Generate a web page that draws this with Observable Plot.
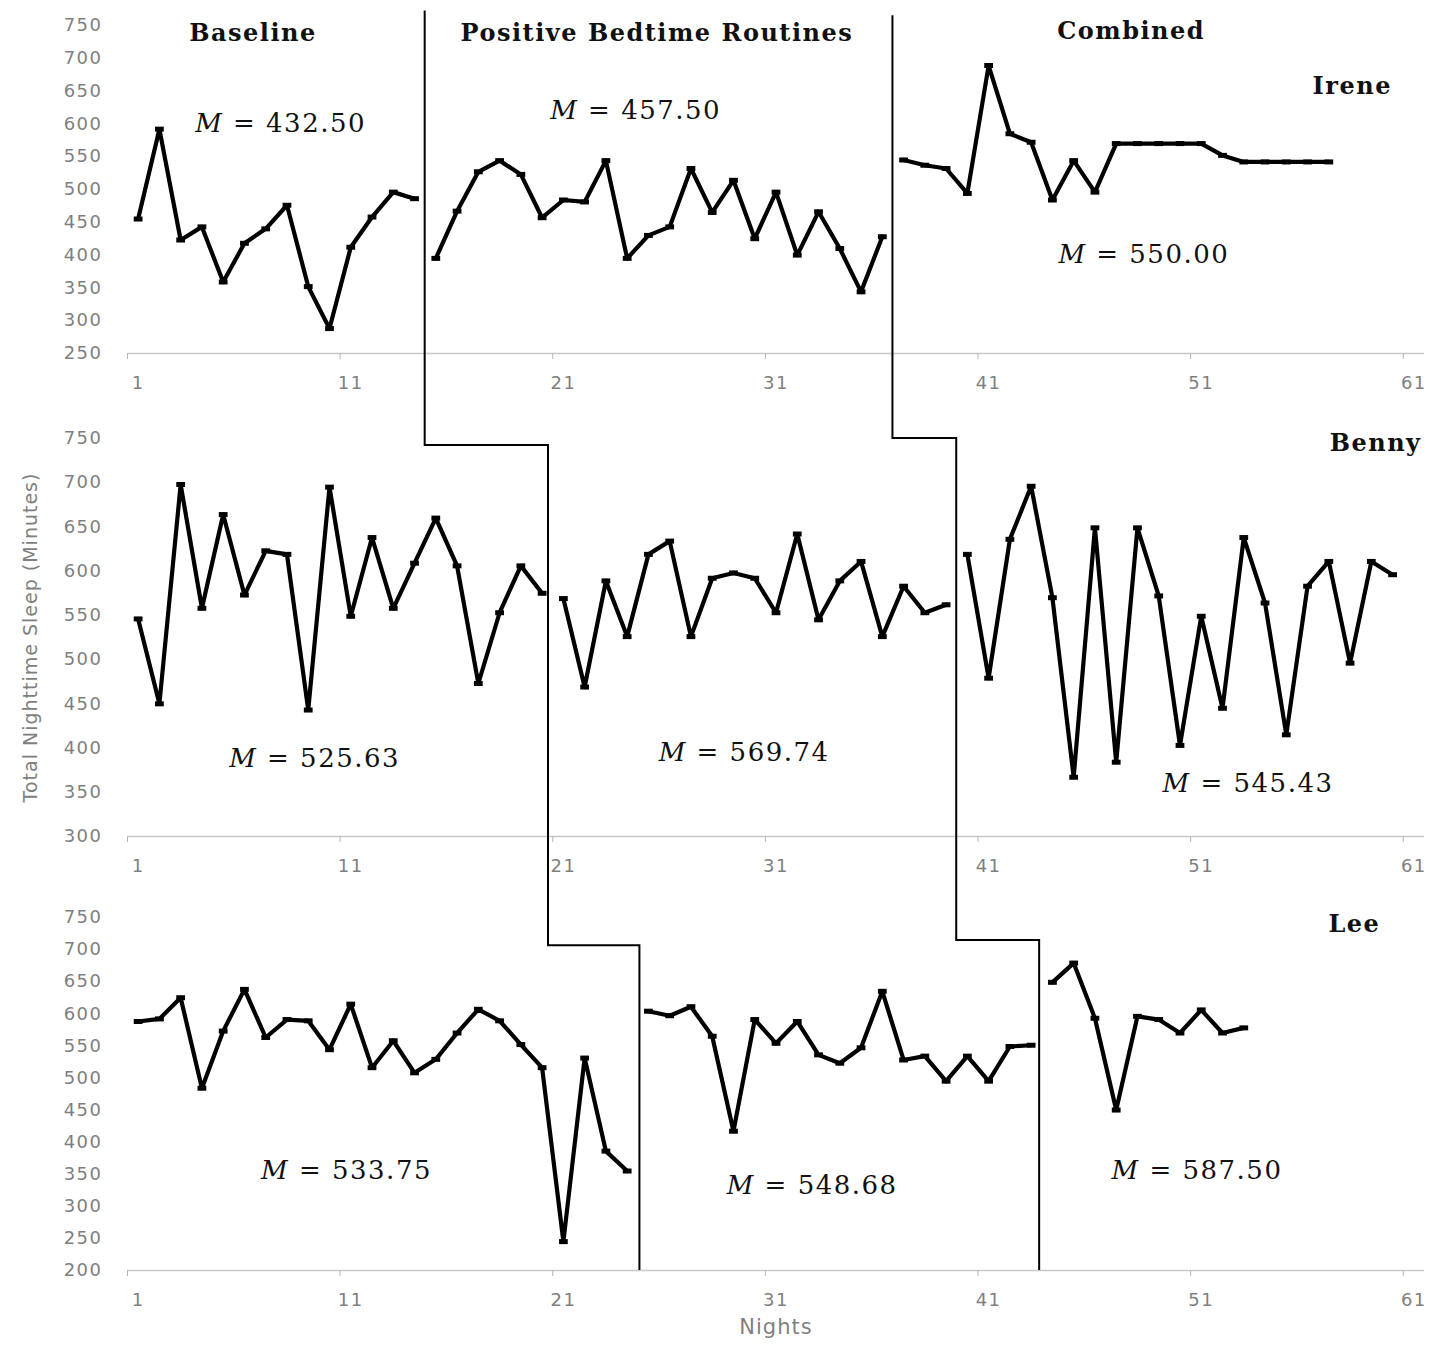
<!DOCTYPE html>
<html>
<head>
<meta charset="utf-8">
<script src="https://cdn.jsdelivr.net/npm/d3@7"></script>
<script src="https://cdn.jsdelivr.net/npm/@observablehq/plot@0.6"></script>
<style>
  html, body { margin: 0; padding: 0; background: #fff; }
  #chart { width: 1435px; }
  #chart svg { display: block; }
  #chart g[aria-label$="tick label"] text { letter-spacing: 1.5px; }
  #chart g[font-family="DejaVu Serif"] text { letter-spacing: 1.5px; }
  #chart .title-text text { letter-spacing: 1px; }
</style>
</head>
<body>
<div id="chart"></div>
<script>
// ---------- data ----------
const nightTicks = [1, 11, 21, 31, 41, 51, 61];
const phaseNames = ["Baseline", "Positive Bedtime Routines", "Combined"];
const participants = ["Irene", "Benny", "Lee"];

// Irene (first night of each phase, then values)
const ireneStarts = [1, 15, 37];
const ireneBaseline = [455, 592, 423, 443, 359, 418, 440, 476, 352, 288, 412, 458, 496, 486];
const irenePBR = [395, 467, 527, 544, 523, 457, 484, 481, 544, 395, 430, 443, 532, 465, 514, 425, 496, 400, 466, 410, 344, 428];
const ireneCombined = [545, 537, 532, 494, 689, 585, 572, 484, 544, 496, 570, 570, 570, 570, 570, 552, 542, 542, 542, 542, 542];
const ireneMeans = ["432.50", "457.50", "550.00"];
const ireneYTicks = [250, 300, 350, 400, 450, 500, 550, 600, 650, 700, 750];

// Benny
const bennyStarts = [1, 21, 40];
const bennyBaseline = [546, 450, 698, 558, 664, 573, 623, 619, 443, 695, 549, 638, 558, 609, 660, 606, 473, 553, 606, 575];
const bennyPBR = [569, 469, 589, 526, 619, 634, 526, 592, 598, 592, 553, 642, 545, 589, 611, 526, 583, 553, 562];
const bennyCombined = [619, 479, 636, 696, 570, 367, 649, 384, 649, 572, 403, 549, 445, 638, 564, 415, 583, 611, 496, 611, 596];
const bennyMeans = ["525.63", "569.74", "545.43"];
const bennyYTicks = [300, 350, 400, 450, 500, 550, 600, 650, 700, 750];

// Lee
const leeStarts = [1, 25, 44];
const leeBaseline = [588, 592, 625, 484, 573, 638, 563, 591, 589, 544, 615, 516, 558, 508, 529, 570, 607, 589, 552, 516, 245, 531, 386, 355];
const leePBR = [604, 597, 611, 565, 417, 591, 554, 588, 536, 523, 547, 635, 528, 534, 495, 534, 495, 549, 551];
const leeCombined = [649, 679, 593, 450, 596, 591, 570, 606, 570, 578];
const leeMeans = ["533.75", "548.68", "587.50"];
const leeYTicks = [200, 250, 300, 350, 400, 450, 500, 550, 600, 650, 700, 750];

// phase-change lines (night between phases) and step levels
const ireneChanges = [14.5, 36.5];
const bennyChanges = [20.3, 39.5];
const leeChanges = [24.6, 43.4];
const ireneLineTops = [772, 765];
const bennyStepLevels = [742, 750];
const leeStepLevels = [706, 714];

// annotation anchors (night, minutes)
const phaseLabelX = [6.4, 25.4, 47.7];
const phaseLabelY = [738, 738, 741];
const ireneMeanX = [7.7, 24.4, 48.3], ireneMeanY = [600, 620, 400];
const bennyMeanX = [9.3, 29.5, 53.2], bennyMeanY = [388, 395, 360];
const leeMeanX = [10.8, 32.7, 50.8], leeMeanY = [356, 332, 356];
const nameX = [58.1, 59.2, 58.2], nameY = [657, 744, 740];

const yTitle = "Total Nighttime Sleep (Minutes)";
const xTitle = "Nights";

// ---------- helpers ----------
function rows(starts, series) {
  return series.flatMap((vals, p) => vals.map((v, i) => ({night: starts[p] + i, value: v, phase: p})));
}

const dash = {
  draw(ctx, size) {
    const w = Math.sqrt(size) * 1.1, h = 5;
    ctx.rect(-w / 2, -h / 2, w, h);
  }
};

function phaseLines(changes, prevChanges, steps, tops, axisValue) {
  return (index, scales, values, dimensions) => {
    const {x, y} = scales;
    const g = d3.create("svg:g").attr("fill", "none").attr("stroke", "#000").attr("stroke-width", 2);
    const bottom = axisValue != null ? y(axisValue) : dimensions.height;
    changes.forEach((c, i) => {
      const d = prevChanges
        ? `M${x(prevChanges[i])},0V${y(steps[i])}H${x(c)}V${bottom}`
        : `M${x(c)},${y(tops[i])}V${bottom}`;
      g.append("path").attr("d", d);
    });
    return g.node();
  };
}

const serif = "DejaVu Serif";
const gray = "#7f7f7f";

function panel(o) {
  const data = rows(o.starts, o.series);
  const means = o.means.map((m, i) => ({label: `M = ${m}`, x: o.meanX[i], y: o.meanY[i]}));
  const marks = [
    Plot.ruleY([o.yTicks[0]], {stroke: "#c8c8c8", strokeWidth: 1.5}),
    Plot.axisX(nightTicks.map(t => t - 0.5), {tickSize: 6, stroke: "#b5b5b5", tickFormat: () => "", label: null}),
    Plot.axisX(nightTicks, {tickSize: 0, tickPadding: 23, fontSize: 18, fill: gray, label: null}),
    Plot.axisY(o.yTicks, {tickSize: 0, tickPadding: 25, fontSize: 18, fill: gray, label: null}),
    phaseLines(o.changes, o.prevChanges, o.steps, o.tops, o.axisValue),
    Plot.line(data, {x: "night", y: "value", z: "phase", curve: "linear", stroke: "#000", strokeWidth: 4.2}),
    Plot.dot(data, {x: "night", y: "value", symbol: dash, r: 4.5, fill: "#000", stroke: "none"}),
    Plot.text(means, {x: "x", y: "y", text: "label", fontFamily: serif, fontSize: 26, fill: "#111"}),
    Plot.text([{name: o.name, x: o.nameX, y: o.nameY}], {x: "x", y: "y", text: "name", fontFamily: serif, fontWeight: "bold", fontSize: 24, fill: "#111"})
  ];
  if (o.phaseLabels) {
    marks.push(Plot.text(phaseNames.map((n, i) => ({n, x: phaseLabelX[i], y: phaseLabelY[i]})),
      {x: "x", y: "y", text: "n", fontFamily: serif, fontWeight: "bold", fontSize: 24, fill: "#111"}));
  }
  if (o.yTitle) {
    marks.push(Plot.text([yTitle], {text: d => d, frameAnchor: "left", textAnchor: "middle", rotate: -90, dx: -97, fontSize: 19, fill: gray, className: "title-text"}));
  }
  if (o.xTitle) {
    marks.push(Plot.text([xTitle], {text: d => d, frameAnchor: "bottom", textAnchor: "middle", dy: 63, fontSize: 21, fill: gray, className: "title-text"}));
  }
  const svg = Plot.plot({
    width: 1435,
    height: o.height,
    marginLeft: 127,
    marginRight: 11,
    marginTop: o.mt,
    marginBottom: o.mb,
    x: {domain: [0.5, 61.5]},
    y: {domain: [o.yTicks[0], o.yTicks[o.yTicks.length - 1]]},
    style: {fontFamily: "DejaVu Sans", background: "#fff", overflow: "visible"},
    marks
  });
  // italic M in the mean labels
  const ns = "http://www.w3.org/2000/svg";
  svg.querySelectorAll("text").forEach(t => {
    const s = t.textContent;
    if (s.startsWith("M = ")) {
      t.textContent = "";
      const a = document.createElementNS(ns, "tspan");
      a.setAttribute("font-style", "italic");
      a.textContent = "M";
      const b = document.createElementNS(ns, "tspan");
      b.textContent = " = " + s.slice(4);
      t.append(a, b);
    }
  });
  return svg;
}

const chart = document.getElementById("chart");
chart.append(panel({
  name: participants[0], nameX: nameX[0], nameY: nameY[0],
  starts: ireneStarts, series: [ireneBaseline, irenePBR, ireneCombined],
  means: ireneMeans, meanX: ireneMeanX, meanY: ireneMeanY,
  yTicks: ireneYTicks, height: 400, mt: 25, mb: 47,
  changes: ireneChanges, prevChanges: null, steps: null, tops: ireneLineTops, axisValue: null,
  phaseLabels: true
}));
chart.append(panel({
  name: participants[1], nameX: nameX[1], nameY: nameY[1],
  starts: bennyStarts, series: [bennyBaseline, bennyPBR, bennyCombined],
  means: bennyMeans, meanX: bennyMeanX, meanY: bennyMeanY,
  yTicks: bennyYTicks, height: 485, mt: 38, mb: 49,
  changes: bennyChanges, prevChanges: ireneChanges, steps: bennyStepLevels, tops: null, axisValue: null,
  yTitle: true
}));
chart.append(panel({
  name: participants[2], nameX: nameX[2], nameY: nameY[2],
  starts: leeStarts, series: [leeBaseline, leePBR, leeCombined],
  means: leeMeans, meanX: leeMeanX, meanY: leeMeanY,
  yTicks: leeYTicks, height: 462, mt: 32, mb: 77,
  changes: leeChanges, prevChanges: bennyChanges, steps: leeStepLevels, tops: null, axisValue: leeYTicks[0],
  xTitle: true
}));
</script>
</body>
</html>
